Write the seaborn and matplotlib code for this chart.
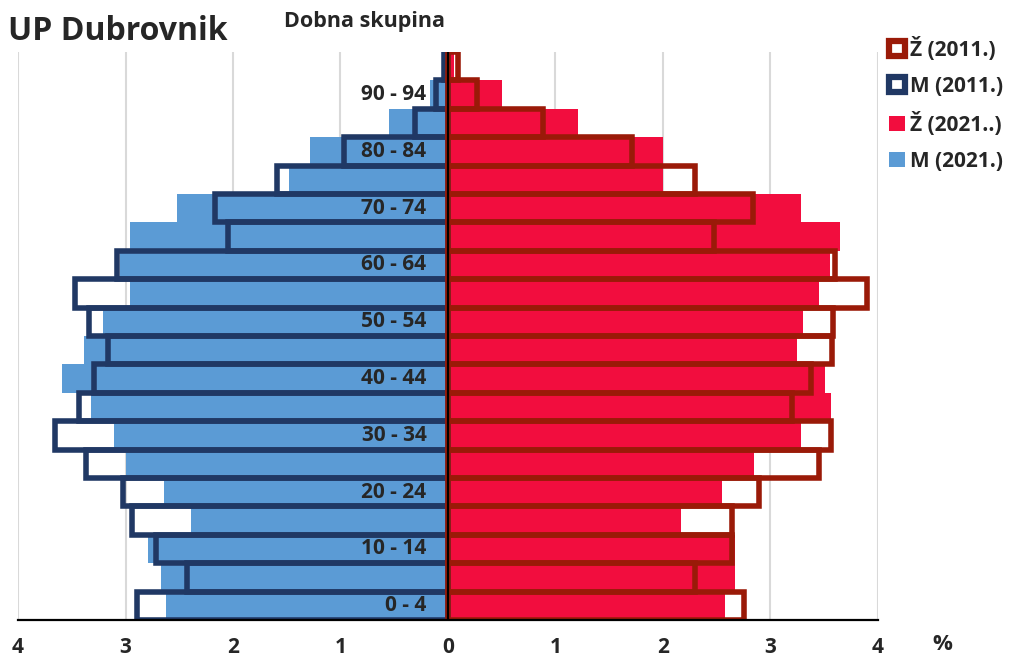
import matplotlib
matplotlib.use('Agg')
import matplotlib.pyplot as plt
import seaborn as sns
import pandas as pd
from matplotlib.patches import Patch

# age groups, bottom to top
ages = ['0 - 4', '5 - 9', '10 - 14', '15 - 19', '20 - 24', '25 - 29', '30 - 34',
        '35 - 39', '40 - 44', '45 - 49', '50 - 54', '55 - 59', '60 - 64', '65 - 69',
        '70 - 74', '75 - 79', '80 - 84', '85 - 89', '90 - 94', '95+']

# shares of population in %
m_2021 = [2.62, 2.67, 2.79, 2.39, 2.64, 3.00, 3.11, 3.32, 3.59, 3.39,
          3.21, 2.96, 3.05, 2.96, 2.52, 1.48, 1.28, 0.55, 0.17, 0.02]
z_2021 = [2.58, 2.67, 2.67, 2.17, 2.55, 2.85, 3.28, 3.56, 3.51, 3.25,
          3.30, 3.45, 3.55, 3.65, 3.28, 2.00, 2.00, 1.21, 0.50, 0.06]
m_2011 = [2.89, 2.43, 2.72, 2.94, 3.02, 3.37, 3.66, 3.43, 3.29, 3.16,
          3.34, 3.47, 3.08, 2.05, 2.17, 1.59, 0.97, 0.31, 0.11, 0.035]
z_2011 = [2.75, 2.30, 2.64, 2.64, 2.89, 3.45, 3.56, 3.20, 3.38, 3.57,
          3.58, 3.90, 3.60, 2.47, 2.84, 2.30, 1.71, 0.88, 0.27, 0.09]

xticks = [-4, -3, -2, -1, 0, 1, 2, 3, 4]

c_m21 = '#5B9BD5'
c_z21 = '#F20D3E'
c_m11 = '#203864'
c_z11 = '#9A1A08'

df = pd.DataFrame({'age': ages, 'm2021': m_2021, 'z2021': z_2021,
                   'm2011': m_2011, 'z2011': z_2011})
df['m2021_neg'] = -df['m2021']
df['m2011_neg'] = -df['m2011']
order = ages[::-1]

sns.set_theme(style='white')
plt.rcParams['font.family'] = ['Open Sans', 'DejaVu Sans']
plt.rcParams['font.weight'] = 'bold'

fig = plt.figure(figsize=(10.11, 6.58), dpi=100)
ax = fig.add_axes([18 / 1011, 1 - 620 / 658, 860 / 1011, 568 / 658])

common = dict(y='age', order=order, orient='h', width=1.0, errorbar=None,
              saturation=1, ax=ax)
sns.barplot(data=df, x='m2021_neg', color=c_m21, linewidth=0, **common)
sns.barplot(data=df, x='z2021', color=c_z21, linewidth=0, **common)
sns.barplot(data=df, x='m2011_neg', color=c_m11, fill=False, linewidth=4, **common)
sns.barplot(data=df, x='z2011', color=c_z11, fill=False, linewidth=4, **common)

ax.axvline(0, color='black', lw=1.6, zorder=6)

ax.set_xlim(-4, 4)
ax.set_ylim(len(ages) - 0.5, -0.5)
ax.set_xticks(xticks)
ax.set_xticklabels([str(abs(t)) for t in xticks], fontsize=15, fontweight='bold')
ax.set_yticks([])
ax.set_xlabel('')
ax.set_ylabel('')
ax.grid(axis='x', color='#D9D9D9', lw=1.5)
ax.set_axisbelow(True)
for s in ['top', 'right', 'left']:
    ax.spines[s].set_visible(False)
ax.spines['bottom'].set_color('black')
ax.spines['bottom'].set_linewidth(1.6)
ax.spines['bottom'].set_zorder(7)
ax.tick_params(axis='x', direction='out', length=6, width=1.5, color='black', pad=6)

# age labels every other group
for i, a in enumerate(ages):
    if i % 2 == 0:
        ax.text(-0.2, order.index(a), a, ha='right', va='center',
                fontsize=15, fontweight='bold', zorder=8)

fig.text(8 / 1011, 1 - 31 / 658, 'UP Dubrovnik', fontsize=23, fontweight='bold',
         va='center', ha='left')
fig.text(364 / 1011, 1 - 22 / 658, 'Dobna skupina', fontsize=15.5, fontweight='bold',
         va='center', ha='center')
fig.text(942 / 1011, 1 - 645 / 658, '%', fontsize=16, fontweight='bold',
         va='center', ha='center')

handles = [Patch(facecolor='white', edgecolor=c_z11, linewidth=4.5),
           Patch(facecolor='white', edgecolor=c_m11, linewidth=4.5),
           Patch(facecolor=c_z21, edgecolor='none'),
           Patch(facecolor=c_m21, edgecolor='none')]
labels = ['Ž (2011.)', 'M (2011.)', 'Ž (2021..)', 'M (2021.)']
fig.legend(handles, labels, loc='upper left', bbox_to_anchor=(889 / 1011, 1 - 37 / 658),
           frameon=False, borderpad=0, handlelength=0.75, handleheight=0.75,
           handletextpad=0.25, labelspacing=0.72, borderaxespad=0,
           prop={'weight': 'bold', 'size': 15})

fig.savefig('out.png', dpi=100)
